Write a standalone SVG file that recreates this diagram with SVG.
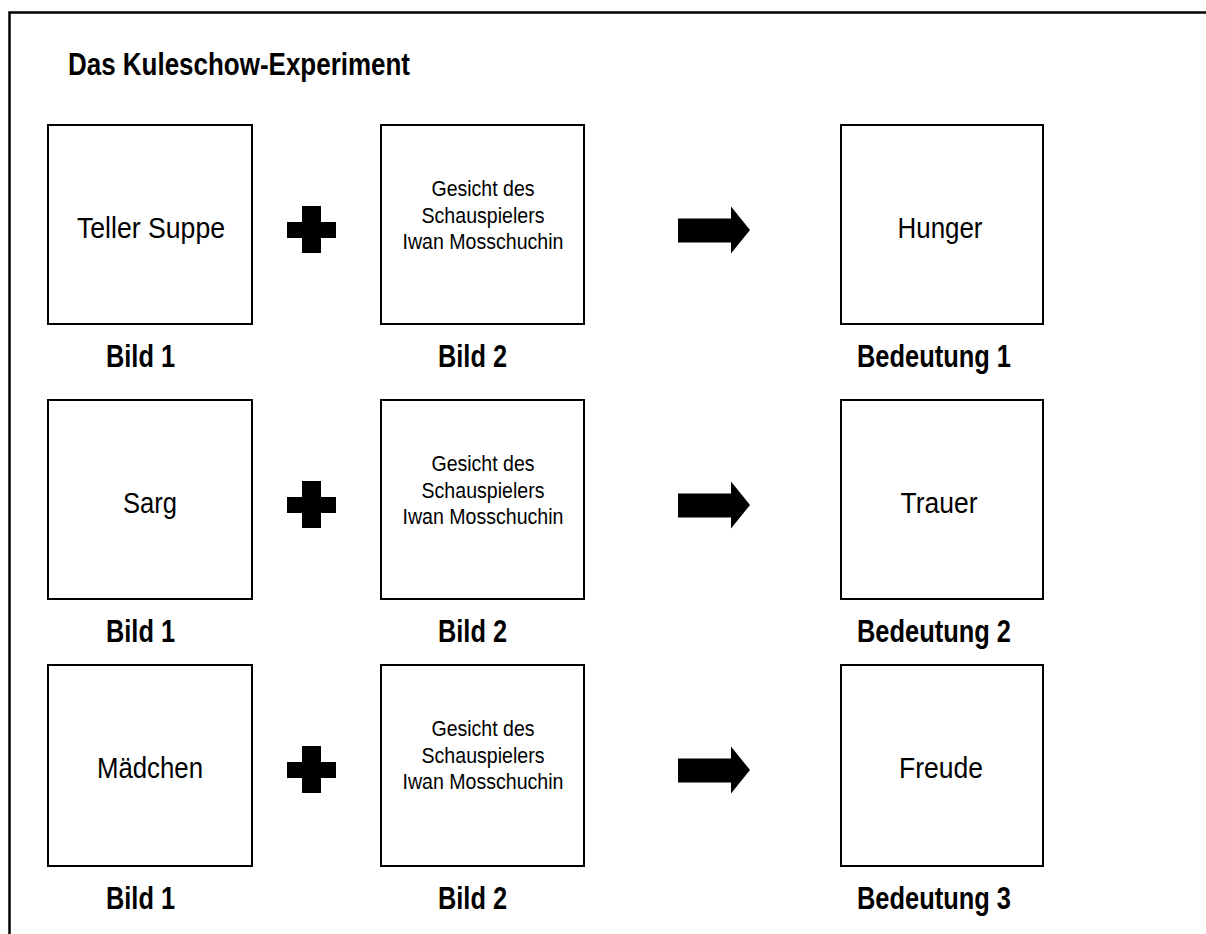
<svg xmlns="http://www.w3.org/2000/svg" xmlns:xlink="http://www.w3.org/1999/xlink" width="1206" height="934" viewBox="0 0 1206 934">
<style>
  .frame{fill:none;stroke:#000;stroke-width:2.5}
  .box{fill:#fff;stroke:#000;stroke-width:2}
  text{font-family:"Liberation Sans",Arial,sans-serif;fill:#000}
  .title{font-size:31px;font-weight:bold}
  .lbl{font-size:32px;font-weight:bold}
  .big{font-size:29px;text-anchor:middle}
  .small{font-size:22px;text-anchor:middle}
  .sym{fill:#000}
</style>
<defs>
  <path id="plus" class="sym" d="M-9.5,-23.5 H9.5 V-7.5 H24.5 V8.5 H9.5 V23.5 H-9.5 V8.5 H-24.5 V-7.5 H-9.5 Z"/>
  <path id="arrow" class="sym" d="M0,-11.5 H53 V-23.5 L72,0 L53,23.5 V12.5 H0 Z"/>
</defs>
<rect class="frame" x="9.5" y="12.5" width="1210" height="940"/>
<text class="title" x="68" y="75" textLength="342" lengthAdjust="spacingAndGlyphs">Das Kuleschow-Experiment</text>

<g id="row1">
  <g id="r1-bild1"><rect class="box" x="48" y="125" width="204" height="199"/><text class="big" x="151" y="238" textLength="148" lengthAdjust="spacingAndGlyphs">Teller Suppe</text><text class="lbl" x="106" y="367" textLength="69" lengthAdjust="spacingAndGlyphs">Bild 1</text></g>
  <g id="r1-bild2"><rect class="box" x="381" y="125" width="203" height="199"/><text class="small" x="483" y="196" textLength="103" lengthAdjust="spacingAndGlyphs">Gesicht des</text><text class="small" x="483" y="222.5" textLength="123" lengthAdjust="spacingAndGlyphs">Schauspielers</text><text class="small" x="483" y="249" textLength="161" lengthAdjust="spacingAndGlyphs">Iwan Mosschuchin</text><text class="lbl" x="438" y="367" textLength="69" lengthAdjust="spacingAndGlyphs">Bild 2</text></g>
  <g id="r1-bedeutung"><rect class="box" x="841" y="125" width="202" height="199"/><text class="big" x="940" y="238" textLength="85" lengthAdjust="spacingAndGlyphs">Hunger</text><text class="lbl" x="857" y="367" textLength="154" lengthAdjust="spacingAndGlyphs">Bedeutung 1</text></g>
</g>
<g id="row2" transform="translate(0,275)">
  <g id="r2-bild1"><rect class="box" x="48" y="125" width="204" height="199"/><text class="big" x="150" y="238" textLength="54" lengthAdjust="spacingAndGlyphs">Sarg</text><text class="lbl" x="106" y="367" textLength="69" lengthAdjust="spacingAndGlyphs">Bild 1</text></g>
  <g id="r2-bild2"><rect class="box" x="381" y="125" width="203" height="199"/><text class="small" x="483" y="196" textLength="103" lengthAdjust="spacingAndGlyphs">Gesicht des</text><text class="small" x="483" y="222.5" textLength="123" lengthAdjust="spacingAndGlyphs">Schauspielers</text><text class="small" x="483" y="249" textLength="161" lengthAdjust="spacingAndGlyphs">Iwan Mosschuchin</text><text class="lbl" x="438" y="367" textLength="69" lengthAdjust="spacingAndGlyphs">Bild 2</text></g>
  <g id="r2-bedeutung"><rect class="box" x="841" y="125" width="202" height="199"/><text class="big" x="939" y="238" textLength="77" lengthAdjust="spacingAndGlyphs">Trauer</text><text class="lbl" x="857" y="367" textLength="154" lengthAdjust="spacingAndGlyphs">Bedeutung 2</text></g>
</g>
<g id="row3" transform="translate(0,540)">
  <g id="r3-bild1"><rect class="box" x="48" y="125" width="204" height="201"/><text class="big" x="150" y="238" textLength="106" lengthAdjust="spacingAndGlyphs">Mädchen</text><text class="lbl" x="106" y="369" textLength="69" lengthAdjust="spacingAndGlyphs">Bild 1</text></g>
  <g id="r3-bild2"><rect class="box" x="381" y="125" width="203" height="201"/><text class="small" x="483" y="196" textLength="103" lengthAdjust="spacingAndGlyphs">Gesicht des</text><text class="small" x="483" y="222.5" textLength="123" lengthAdjust="spacingAndGlyphs">Schauspielers</text><text class="small" x="483" y="249" textLength="161" lengthAdjust="spacingAndGlyphs">Iwan Mosschuchin</text><text class="lbl" x="438" y="369" textLength="69" lengthAdjust="spacingAndGlyphs">Bild 2</text></g>
  <g id="r3-bedeutung"><rect class="box" x="841" y="125" width="202" height="201"/><text class="big" x="941" y="238" textLength="84" lengthAdjust="spacingAndGlyphs">Freude</text><text class="lbl" x="857" y="369" textLength="154" lengthAdjust="spacingAndGlyphs">Bedeutung 3</text></g>
</g>

<g id="connectors">
  <use xlink:href="#plus" x="311.5" y="229.5"/>
  <use xlink:href="#arrow" x="678" y="230"/>
  <use xlink:href="#plus" x="311.5" y="504.5"/>
  <use xlink:href="#arrow" x="678" y="505"/>
  <use xlink:href="#plus" x="311.5" y="769.5"/>
  <use xlink:href="#arrow" x="678" y="770"/>
</g>
</svg>
